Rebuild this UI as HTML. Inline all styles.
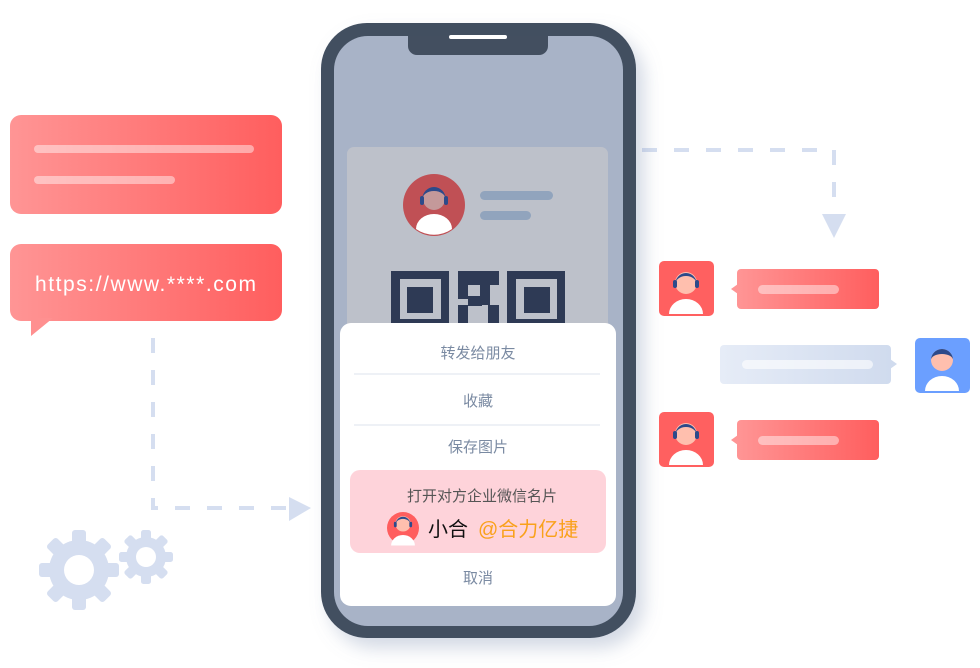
<!DOCTYPE html>
<html><head><meta charset="utf-8"><style>
body{margin:0;background:#fff;}
svg{display:block}
text{font-family:"Liberation Sans","Noto Sans CJK SC",sans-serif;}
</style></head><body>
<svg width="980" height="668" viewBox="0 0 980 668" xmlns="http://www.w3.org/2000/svg">
<defs>
<linearGradient id="rg" x1="0" x2="1" y1="0" y2="0"><stop offset="0" stop-color="#ff9595"/><stop offset="1" stop-color="#ff5e5e"/></linearGradient>
<linearGradient id="bg" x1="0" x2="1" y1="0" y2="0"><stop offset="0" stop-color="#e6ecf7"/><stop offset="1" stop-color="#d0dbee"/></linearGradient>
<filter id="sh" x="-20%" y="-20%" width="140%" height="140%"><feDropShadow dx="8" dy="10" stdDeviation="9" flood-color="#8090b0" flood-opacity="0.35"/></filter>
<g id="agent">
<circle cx="0" cy="-6" r="11" fill="#ffbfae"/>
<path d="M-11,-4 a11,12 0 0 1 22,0 a11,9 0 0 0 -22,0" fill="#2d4a8a"/>
<rect x="-13" y="-9" width="4" height="8" rx="2" fill="#2d4a8a"/><rect x="9" y="-9" width="4" height="8" rx="2" fill="#2d4a8a"/>
<path d="M-17,25 a17,15 0 0 1 34,0z" fill="#fff"/>
</g>
</defs>
<rect x="10" y="115" width="272" height="99" rx="11" fill="url(#rg)"/>
<rect x="34" y="145" width="220" height="8" rx="4" fill="#fff" opacity="0.45"/>
<rect x="34" y="176" width="141" height="8" rx="4" fill="#fff" opacity="0.45"/>
<rect x="10" y="244" width="272" height="77" rx="11" fill="url(#rg)"/>
<path d="M31,318 L31,336 L53,318z" fill="#ff9090"/>
<text x="35" y="291" font-size="21" fill="#fff" textLength="221" lengthAdjust="spacing">https://www.****.com</text>
<path d="M153,338 V508 H290" fill="none" stroke="#d5def0" stroke-width="4" stroke-dasharray="15 17"/>
<path d="M289,497 L311,508 L289,521z" fill="#d5def0"/>
<path d="M642,150 H834 V214" fill="none" stroke="#d5def0" stroke-width="4" stroke-dasharray="15 17"/>
<path d="M822,214 L846,214 L834,238z" fill="#d5def0"/>
<g fill="#d5def0">
<g transform="translate(79,570)">
<circle r="30"/>
<g id="t1"><rect x="-7" y="-40" width="14" height="14" rx="3"/></g>
<use href="#t1" transform="rotate(45)"/><use href="#t1" transform="rotate(90)"/><use href="#t1" transform="rotate(135)"/><use href="#t1" transform="rotate(180)"/><use href="#t1" transform="rotate(225)"/><use href="#t1" transform="rotate(270)"/><use href="#t1" transform="rotate(315)"/>
<circle r="15" fill="#fff"/>
</g>
<g transform="translate(146,557)">
<circle r="20"/>
<g id="t2"><rect x="-5" y="-27" width="10" height="10" rx="2.5"/></g>
<use href="#t2" transform="rotate(45)"/><use href="#t2" transform="rotate(90)"/><use href="#t2" transform="rotate(135)"/><use href="#t2" transform="rotate(180)"/><use href="#t2" transform="rotate(225)"/><use href="#t2" transform="rotate(270)"/><use href="#t2" transform="rotate(315)"/>
<circle r="10" fill="#fff"/>
</g>
</g>
<rect x="321" y="23" width="315" height="615" rx="46" fill="#434f60" filter="url(#sh)"/>
<rect x="334" y="36" width="289" height="590" rx="34" fill="#a8b3c7"/>
<path d="M408,36 H548 V46 a9,9 0 0 1 -9,9 H417 a9,9 0 0 1 -9,-9z" fill="#434f60"/>
<rect x="449" y="35" width="58" height="4" rx="2" fill="#fff"/>
<rect x="347" y="147" width="261" height="200" rx="7" fill="#bdc1ca"/>
<circle cx="434" cy="205" r="31" fill="#c05055"/>
<g transform="translate(434,205)">
<circle cx="0" cy="-6" r="11" fill="#c4999a"/>
<path d="M-12,-5 a12,13 0 0 1 24,0 a12,9 0 0 0 -24,0z" fill="#2d4a8a"/>
<rect x="-14" y="-9" width="4" height="9" rx="2" fill="#2d4a8a"/><rect x="10" y="-9" width="4" height="9" rx="2" fill="#2d4a8a"/>
<path d="M-18,24 a18,15 0 0 1 36,0 a31,31 0 0 1 -36,0z" fill="#fff"/>
</g>
<rect x="480" y="191" width="73" height="9" rx="4.5" fill="#91a4bd"/>
<rect x="480" y="211" width="51" height="9" rx="4.5" fill="#91a4bd"/>
<g fill="#2e3a55">
<path d="M391,271 h58 v60 h-58z M400,279 v40 h41 v-40z"/>
<rect x="407" y="287" width="26" height="26"/>
<path d="M507,271 h58 v60 h-58z M516,279 v40 h41 v-40z"/>
<rect x="524" y="287" width="26" height="26"/>
<rect x="458" y="271" width="41" height="14"/>
<rect x="458" y="285" width="10" height="14"/><rect x="480" y="285" width="10" height="20"/>
<rect x="468" y="296" width="14" height="10"/><rect x="458" y="305" width="10" height="20"/><rect x="488" y="305" width="11" height="20"/>
</g>
<rect x="340" y="323" width="276" height="283" rx="11" fill="#fff"/>
<g font-size="15" fill="#7a8aa2" text-anchor="middle">
<text x="478" y="358">转发给朋友</text>
<text x="478" y="406">收藏</text>
<text x="478" y="452">保存图片</text>
<text x="478" y="583">取消</text>
</g>
<rect x="354" y="373" width="246" height="2" fill="#eef1f6"/>
<rect x="354" y="424" width="246" height="2" fill="#eef1f6"/>
<rect x="350" y="470" width="256" height="83" rx="10" fill="#fed3da"/>
<text x="482" y="501" font-size="15" fill="#555" text-anchor="middle">打开对方企业微信名片</text>
<circle cx="403" cy="528" r="16" fill="#ff5e5e"/>
<g transform="translate(403,528) scale(0.7)"><use href="#agent"/></g>
<text x="428" y="536" font-size="20" fill="#111">小合</text>
<text x="478" y="536" font-size="20" fill="#f9a11b">@合力亿捷</text>
<rect x="659" y="261" width="55" height="55" rx="5" fill="#ff6060"/>
<g transform="translate(686,289)"><use href="#agent"/></g>
<rect x="737" y="269" width="142" height="40" rx="4" fill="url(#rg)"/>
<path d="M738,284 L731,289 L738,294z" fill="#ff9595"/>
<rect x="758" y="285" width="81" height="9" rx="4.5" fill="#fff" opacity="0.45"/>
<rect x="720" y="345" width="171" height="39" rx="4" fill="url(#bg)"/>
<path d="M890,359 L897,364 L890,369z" fill="#d0dbee"/>
<rect x="742" y="360" width="131" height="9" rx="4.5" fill="#fff" opacity="0.6"/>
<rect x="915" y="338" width="55" height="55" rx="5" fill="#6b9fff"/>
<g transform="translate(942,366)">
<circle cx="0" cy="-6" r="11" fill="#ffbfae"/>
<path d="M-11,-6 a11,11 0 0 1 22,0 a11,6 0 0 0 -22,0z" fill="#2d4a8a"/>
<path d="M-17,25 a17,15 0 0 1 34,0z" fill="#fff"/>
</g>
<rect x="659" y="412" width="55" height="55" rx="5" fill="#ff6060"/>
<g transform="translate(686,440)"><use href="#agent"/></g>
<rect x="737" y="420" width="142" height="40" rx="4" fill="url(#rg)"/>
<path d="M738,435 L731,440 L738,445z" fill="#ff9595"/>
<rect x="758" y="436" width="81" height="9" rx="4.5" fill="#fff" opacity="0.45"/>
</svg>
</body></html>
